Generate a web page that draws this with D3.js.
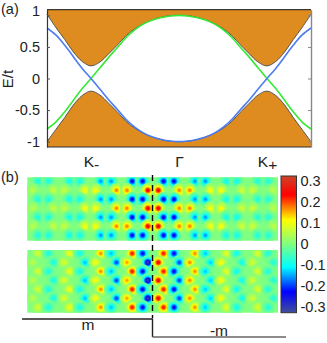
<!DOCTYPE html>
<html lang="en">
<head>
<meta charset="utf-8">
<script src="https://d3js.org/d3.v7.min.js"></script>
<style>
  html, body { margin: 0; padding: 0; background: #fff; }
  svg { display: block; }
  text { font-family: "Liberation Sans", Arial, sans-serif; fill: #222; }
</style>
</head>
<body>
<div id="my_dataviz"></div>
<script>

// (a) band structure, k = -1.5 ... 1.5 in steps of 0.1
var kValues = [-1.5,-1.4,-1.3,-1.2,-1.1,-1,-0.9,-0.8,-0.7,-0.6,-0.5,-0.4,-0.3,-0.2,-0.1,0,
               0.1,0.2,0.3,0.4,0.5,0.6,0.7,0.8,0.9,1,1.1,1.2,1.3,1.4,1.5];
var bandTop = [1.02,0.81,0.62,0.42,0.27,0.2,0.26,0.39,0.53,0.68,0.79,0.87,0.93,0.97,0.995,1.0,
               0.995,0.97,0.93,0.87,0.79,0.68,0.53,0.39,0.26,0.2,0.27,0.42,0.62,0.81,1.02];
var bandBottom = [-1.0,-0.81,-0.62,-0.42,-0.27,-0.2,-0.26,-0.39,-0.53,-0.68,-0.79,-0.87,-0.93,-0.97,-0.995,-1.0,
                  -0.995,-0.97,-0.93,-0.87,-0.79,-0.68,-0.53,-0.39,-0.26,-0.2,-0.27,-0.42,-0.62,-0.81,-1.0];
var greenLine = [-0.8,-0.69,-0.53,-0.345,-0.16,0,0.165,0.335,0.49,0.65,0.775,0.865,0.925,0.965,0.99,1.0,
                 0.99,0.965,0.925,0.865,0.775,0.65,0.49,0.335,0.165,0,-0.16,-0.345,-0.53,-0.69,-0.8];
var blueLine = [0.8,0.69,0.53,0.345,0.16,0,-0.165,-0.335,-0.49,-0.65,-0.775,-0.865,-0.925,-0.965,-0.99,-1.0,
                -0.99,-0.965,-0.925,-0.865,-0.775,-0.65,-0.49,-0.335,-0.165,0,0.16,0.345,0.53,0.69,0.8];
var energyTicks = [-1,-0.5,0,0.5,1];
var kTicks = [-1,0,1];
var kLabels = ["K", "\u0393", "K"];
var kSubs = ["-", "", "+"];

// (b) amplitude of the spots, one list per sublattice row
var oddCols  = [0.5,1.5,3.5,4.5,6.5,7.5,9.5,10.5,12.5,13.5,15.5,16.5,18.5,19.5,21.5,22.5];
var evenCols = [0,2,3,5,6,8,9,11,12,14,15,17,18,20,21,23];
var topOdd  = [-0.085,-0.085,-0.095,-0.095,-0.16,-0.16,-0.235,-0.235,-0.235,-0.235,-0.16,-0.16,-0.095,-0.095,-0.08,-0.08];
var topEven = [0.05,0.06,0.06,0.11,0.11,0.175,0.175,0.25,0.25,0.175,0.175,0.11,0.11,0.07,0.07,0.05];
var botOdd  = [0.075,-0.085,0.1,-0.095,0.17,-0.14,0.23,-0.235,0.23,-0.235,0.17,-0.135,0.09,-0.095,0.08,-0.08];
var botEven = [0.05,-0.09,0.08,-0.14,0.11,-0.2,0.16,-0.3,0.25,-0.2,0.17,-0.13,0.11,-0.095,0.07,-0.08];
var rows = [0,1,2,3,4,5,6];

var colorStops = [-0.325,-0.228,-0.11,0,0.115,0.235,0.325];
var colorValues = ["#404c9c","#0000ff","#00ffff","#80ff80","#ffff00","#ff0000","#cc4428"];
var barTicks = [-0.3,-0.2,-0.1,0,0.1,0.2,0.3];

var width = 327, height = 343;
var svg = d3.select("#my_dataviz").append("svg").attr("width", width).attr("height", height);
var defs = svg.append("defs");

// ---- panel (a)
var xBand = d3.scaleLinear().domain([-1.5,1.5]).range([47,311]);
var yBand = d3.scaleLinear().domain([-1.085,1.09]).range([147,9.7]);

function plot_bands(){
    var top = yBand.domain()[1], bot = yBand.domain()[0];
    var areaTop = d3.area().curve(d3.curveCatmullRom)
        .x(function(d,i){ return xBand(kValues[i]); })
        .y0(yBand(top))
        .y1(function(d){ return yBand(d); });
    var areaBot = d3.area().curve(d3.curveCatmullRom)
        .x(function(d,i){ return xBand(kValues[i]); })
        .y0(yBand(bot))
        .y1(function(d){ return yBand(d); });
    var line = d3.line().curve(d3.curveCatmullRom)
        .x(function(d,i){ return xBand(kValues[i]); })
        .y(function(d){ return yBand(d); });

    svg.append("path").attr("d", areaTop(bandTop)).attr("fill", "#de8c20");
    svg.append("path").attr("d", areaBot(bandBottom)).attr("fill", "#de8c20");
    svg.append("path").attr("d", line(bandTop)).attr("fill", "none").attr("stroke", "#555").attr("stroke-width", 1);
    svg.append("path").attr("d", line(bandBottom)).attr("fill", "none").attr("stroke", "#555").attr("stroke-width", 1);
    svg.append("path").attr("d", line(greenLine)).attr("fill", "none").attr("stroke", "#35ea35").attr("stroke-width", 1.6);
    svg.append("path").attr("d", line(blueLine)).attr("fill", "none").attr("stroke", "#4c7cf0").attr("stroke-width", 1.6);
}

function plot_band_axes(){
    var left = svg.append("g").attr("transform", "translate(47,0)")
        .call(d3.axisLeft(yBand).tickValues(energyTicks).tickSizeInner(-3).tickSizeOuter(0).tickPadding(7)
              .tickFormat(function(d){ return d; }));
    left.select(".domain").attr("stroke", "#333").attr("stroke-width", 1.2);
    left.selectAll("line").attr("stroke", "#555");
    left.selectAll("text").style("font-size", "14.5px").attr("fill", "#222");
    // the top label sits higher than its tick in the reference
    left.selectAll(".tick").filter(function(d){ return d === 1; }).select("text").attr("y", -5);

    var right = svg.append("g").attr("transform", "translate(311,0)")
        .call(d3.axisRight(yBand).tickValues(energyTicks).tickSizeInner(-3).tickSizeOuter(0).tickFormat(""));
    right.select(".domain").attr("stroke", "#888").attr("stroke-width", 1.4);
    right.selectAll("line").attr("stroke", "#888");

    svg.append("line").attr("x1",47).attr("x2",311).attr("y1",9.7).attr("y2",9.7).attr("stroke","#111").attr("stroke-width",1);
    svg.append("line").attr("x1",47).attr("x2",311).attr("y1",147).attr("y2",147).attr("stroke","#333").attr("stroke-width",1.2);

    var bottom = svg.append("g").attr("transform", "translate(0,147)")
        .call(d3.axisBottom(xBand).tickValues(kTicks).tickSize(0).tickPadding(0).tickFormat(""));
    bottom.select(".domain").remove();
    bottom.selectAll(".tick").each(function(d,i){
        var t = d3.select(this).append("text").attr("y", 20).attr("text-anchor", "middle")
            .style("font-size", "15.5px").attr("fill", "#222");
        t.append("tspan").text(kLabels[i]);
        if (kSubs[i]) t.append("tspan").attr("dy", 3).text(kSubs[i]);
    });

    svg.append("text").attr("transform", "translate(13,79) rotate(-90)").attr("text-anchor", "middle")
        .style("font-size", "15px").text("E/t");
    svg.append("text").attr("x", 1).attr("y", 14).style("font-size", "14.5px").text("(a)");
}

// ---- panel (b)
var xSite = d3.scaleLinear().domain([-0.517,23.44]).range([27.3,278]);
var rowPanels = [
    {odd: topOdd, even: topEven, y: d3.scaleLinear().domain([-0.444,6.6]).range([177.3,240.7])},
    {odd: botOdd, even: botEven, y: d3.scaleLinear().domain([-0.39,6.6]).range([250,312.7])}
];
var color = d3.scaleLinear().domain(colorStops).range(colorValues).clamp(true);
var gradCount = 0;
var spotRadius = 7.5, spotSigma = 3;

function spot_gradient(amp){
    // colour follows a gaussian bump through the colormap, so rings appear by themselves
    var id = "spot" + (gradCount++);
    var g = defs.append("radialGradient").attr("id", id);
    d3.range(0, 13).forEach(function(i){
        var r = i / 12;
        var v = amp * Math.exp(-(r*r*spotRadius*spotRadius) / (2*spotSigma*spotSigma));
        g.append("stop").attr("offset", r).attr("stop-color", color(v)).attr("stop-opacity", r === 1 ? 0 : 1);
    });
    return "url(#" + id + ")";
}

function plot_panel(p, n){
    var x0 = xSite.range()[0], y0 = p.y.range()[0];
    var w = xSite.range()[1] - x0, h = p.y.range()[1] - y0;
    defs.append("clipPath").attr("id", "panelClip" + n)
        .append("rect").attr("x", x0).attr("y", y0).attr("width", w).attr("height", h);
    svg.append("rect").attr("x", x0).attr("y", y0).attr("width", w).attr("height", h)
        .attr("fill", color(0));
    var sites = [];
    rows.forEach(function(r){
        var cols = r % 2 === 0 ? oddCols : evenCols;
        var amps = r % 2 === 0 ? p.odd : p.even;
        cols.forEach(function(c,i){ sites.push({col: c, row: r, amp: amps[i]}); });
    });
    svg.append("g").attr("clip-path", "url(#panelClip" + n + ")")
        .selectAll("circle").data(sites).enter().append("circle")
        .attr("cx", function(d){ return xSite(d.col); })
        .attr("cy", function(d){ return p.y(d.row); })
        .attr("r", spotRadius)
        .attr("fill", function(d){ return spot_gradient(d.amp); });
}

function plot_colorbar(){
    var yBar = d3.scaleLinear().domain([-0.328,0.325]).range([312.7,176]);
    var grad = defs.append("linearGradient").attr("id", "barGrad")
        .attr("x1", 0).attr("x2", 0).attr("y1", 1).attr("y2", 0);
    colorStops.forEach(function(v,i){
        grad.append("stop").attr("offset", (yBar(v) - 312.7) / (176 - 312.7)).attr("stop-color", colorValues[i]);
    });
    svg.append("rect").attr("x", 281).attr("y", 176).attr("width", 15.5).attr("height", 136.7)
        .attr("fill", "url(#barGrad)").attr("stroke", "#333").attr("stroke-width", 1);
    var axis = svg.append("g").attr("transform", "translate(296.5,0)")
        .call(d3.axisRight(yBar).tickValues(barTicks).tickSize(0).tickPadding(4)
              .tickFormat(function(d){ return d; }));
    axis.select(".domain").remove();
    axis.selectAll("text").style("font-size", "14.5px").attr("fill", "#222");
}

function plot_step(){
    svg.append("line").attr("x1",152.5).attr("x2",152.5).attr("y1",175).attr("y2",318)
        .attr("stroke","#000").attr("stroke-width",1.4).attr("stroke-dasharray","6,4");
    svg.append("path").attr("d", "M22,319H152.5V337").attr("fill","none").attr("stroke","#222").attr("stroke-width",1.4);
    svg.append("path").attr("d", "M152.5,337H286").attr("fill","none").attr("stroke","#666").attr("stroke-width",1.5);
    svg.append("text").attr("x",88).attr("y",330).attr("text-anchor","middle").style("font-size","15.5px").text("m");
    svg.append("text").attr("x",219).attr("y",335.5).attr("text-anchor","middle").style("font-size","15.5px").text("-m");
    svg.append("text").attr("x",1).attr("y",182).style("font-size","14.5px").text("(b)");
}

plot_bands();
plot_band_axes();
rowPanels.forEach(plot_panel);
plot_colorbar();
plot_step();

</script>
</body>
</html>
